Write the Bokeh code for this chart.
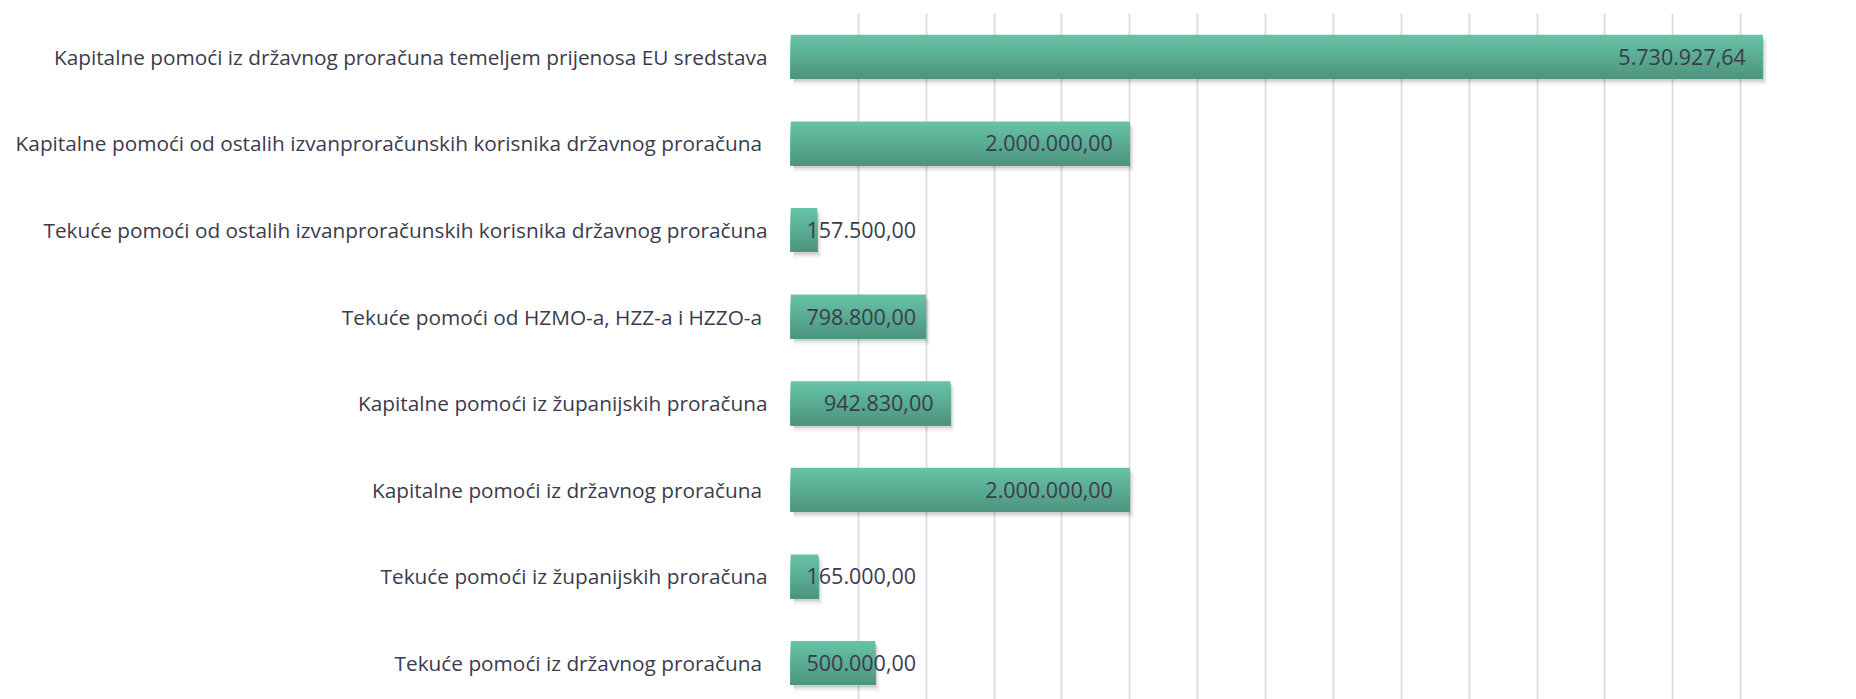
from bokeh.plotting import figure
from bokeh.models import Range1d, FixedTicker, ColumnDataSource
from bokeh.core.properties import value, field
from bokeh.embed import file_html
from bokeh.resources import INLINE

# top-to-bottom order
categories = [
    "Kapitalne pomoći iz državnog proračuna temeljem prijenosa EU sredstava",
    "Kapitalne pomoći od ostalih  izvanproračunskih korisnika državnog proračuna",
    "Tekuće pomoći od ostalih izvanproračunskih korisnika državnog proračuna",
    "Tekuće pomoći od HZMO-a, HZZ-a i HZZO-a ",
    "Kapitalne pomoći iz županijskih proračuna",
    "Kapitalne pomoći iz državnog proračuna ",
    "Tekuće pomoći iz županijskih proračuna",
    "Tekuće pomoći iz državnog proračuna ",
]
values = [5730927.64, 2000000.00, 157500.00, 798800.00, 942830.00, 2000000.00, 165000.00, 500000.00]

X_MAX = 6000000
X_STEP = 400000

FONT = "Open Sans"
TXT = "#3b3b4d"

n = len(categories)
ys = [n - 1 - i for i in range(n)]

def fmt(v):
    s = f"{v:,.2f}"
    return s.replace(",", "X").replace(".", ",").replace("X", ".")

labels = [fmt(v) for v in values]

W, H = 1848, 699
BL, BR, BT = 790, 40, 13
frame_w = W - BL - BR
units_per_px = X_MAX / frame_w
band_px = 86.6
frame_h = H - BT
y_end = n - 0.5
y_start = y_end - frame_h / band_px

p = figure(width=W, height=H, output_backend="svg", toolbar_location=None,
           x_range=Range1d(0, X_MAX), y_range=Range1d(y_start, y_end),
           min_border_left=BL, min_border_right=BR, min_border_top=BT, min_border_bottom=0)
p.outline_line_color = None
p.background_fill_color = "white"

p.xaxis.visible = False
p.xgrid.ticker = FixedTicker(ticks=list(range(0, X_MAX + 1, X_STEP)))
p.xgrid.grid_line_color = "#d9d9e1"
p.xgrid.grid_line_width = 1.7
p.ygrid.visible = False

yax = p.yaxis[0]
yax.ticker = FixedTicker(ticks=ys)
yax.major_label_overrides = {y: c for y, c in zip(ys, categories)}
yax.axis_line_color = None
yax.major_tick_line_color = None
yax.minor_tick_line_color = None
yax.major_tick_out = 0
yax.major_tick_in = 0
yax.major_label_standoff = 23
yax.major_label_text_font = FONT
yax.major_label_text_font_size = "20.8px"
yax.major_label_text_color = TXT

bar_h = 44 / band_px

# shadow
sh_dx = 3 * units_per_px
for k, (dy, a) in enumerate([(2.5, 0.10), (4.5, 0.06), (6.5, 0.03)]):
    src = ColumnDataSource(dict(y=[y - dy / band_px for y in ys],
                                right=[v + sh_dx * (k + 1) / 2 for v in values]))
    p.hbar(y="y", right="right", left=sh_dx, height=bar_h, source=src,
           fill_color="black", fill_alpha=a, line_color=None)

# gradient bars (nested rectangles sharing the bottom edge)
top = (0x67, 0xC4, 0xA7)
bot = (0x4D, 0x93, 0x7D)
N = 16
sh = bar_h / N
for k in range(N):
    t = (k + 0.5) / N
    c = tuple(int(round(top[j] + (bot[j] - top[j]) * t)) for j in range(3))
    col = "#%02x%02x%02x" % c
    hk = bar_h - k * sh
    src = ColumnDataSource(dict(y=[y - bar_h / 2 + hk / 2 for y in ys], right=values))
    p.hbar(y="y", right="right", left=0, height=hk, source=src,
           fill_color=col, line_color=None)

# value labels
TEXT_W = 110
xs, aligns, offs = [], [], []
for v in values:
    bar_px = v / units_per_px
    if bar_px - 17 - TEXT_W >= 16:
        xs.append(v); aligns.append("right"); offs.append(-17)
    else:
        xs.append(0); aligns.append("left"); offs.append(16)
lsrc = ColumnDataSource(dict(x=xs, y=ys, text=labels, align=aligns, off=offs))
p.text(x="x", y="y", text="text", source=lsrc, text_align=field("align"),
       x_offset=field("off"), text_baseline="middle", text_font=value(FONT),
       text_font_size="21.5px", text_color=TXT)

open("out.html", "w").write(file_html(p, INLINE))
